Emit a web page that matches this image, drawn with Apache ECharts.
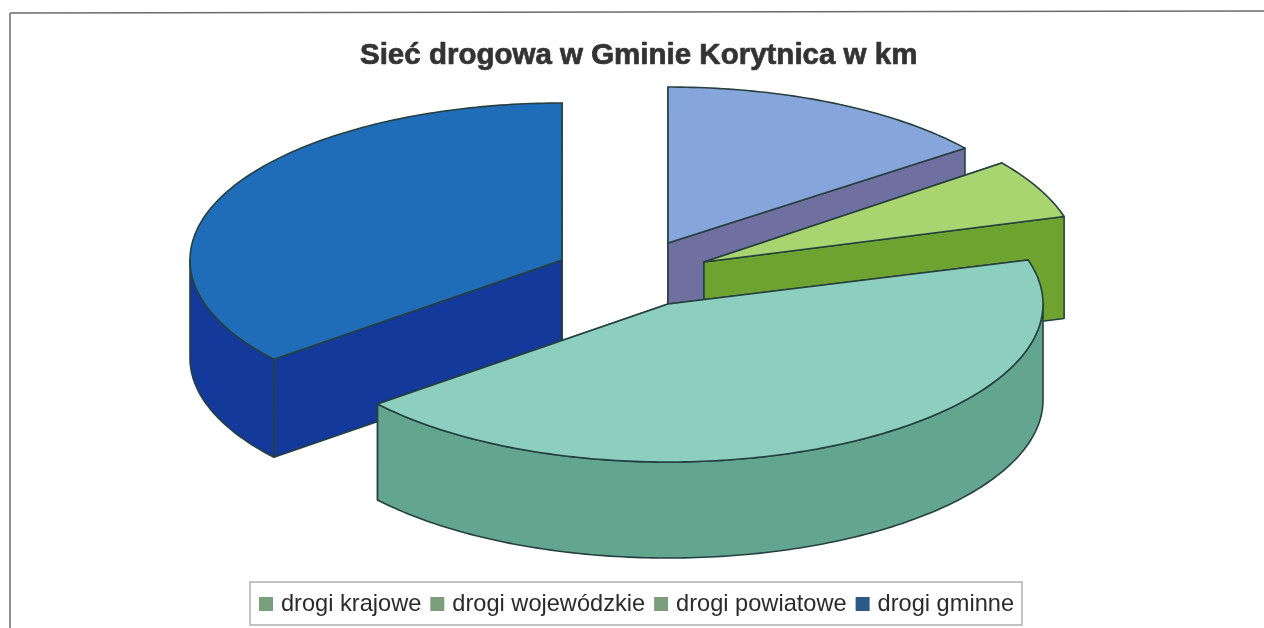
<!DOCTYPE html>
<html><head><meta charset="utf-8">
<style>html,body{margin:0;padding:0;background:#fff}#c{width:1264px;height:628px}</style>
<script src="https://cdn.jsdelivr.net/npm/echarts@6/dist/echarts.min.js"></script>
</head><body><div id="c"></div>
<script>
const titleText = 'Sieć drogowa w Gminie Korytnica w km';
const categories = ['drogi krajowe', 'drogi wojewódzkie', 'drogi powiatowe', 'drogi gminne'];
const values = [14.6, 5.9, 43.6, 35.9];

const legendColors = ['#7a9f7d', '#7a9f7d', '#7a9f7d', '#2b5a86'];
const topColors = ['#86a5da', '#a9d570', '#8dcfbe', '#1f6db8'];
const wallColors = ['#6f6fa0', '#6fa32f', '#63a68f', '#13399a'];
const centres = [[668, 243], [704, 262], [668, 304], [562, 260]];
const radiiX = [374, 375, 375, 372];
const radiiY = [156, 163, 158, 157];
const depths = [99, 102, 96, 98];
const drawOrder = [3, 0, 1, 2];
const OUT = '#26403f';

const total = values.reduce((a, b) => a + b, 0);
const startAngle = i => values.slice(0, i).reduce((a, b) => a + b, 0) / total * 2 * Math.PI;

function arcPts(idx, a0, a1, dy) {
  const c = centres[idx], n = Math.max(2, Math.ceil((a1 - a0) * 60)), pts = [];
  for (let k = 0; k <= n; k++) {
    const a = a0 + (a1 - a0) * k / n;
    pts.push([c[0] + radiiX[idx] * Math.sin(a), c[1] - radiiY[idx] * Math.cos(a) + dy]);
  }
  return pts;
}
function poly(points, fill, z2) {
  return { type: 'polygon', z2, shape: { points },
    style: { fill, stroke: OUT, lineWidth: 1.6, lineJoin: 'round' } };
}
function sliceRenderer(idx) {
  return function (params, api) {
    const span = api.value(0) / total * 2 * Math.PI;
    const a0 = startAngle(idx), a1 = a0 + span, c = centres[idx], d = depths[idx];
    const children = [];
    [a0, a1].forEach(a => {
      const p = arcPts(idx, a, a, 0)[0];
      children.push(poly([c, p, [p[0], p[1] + d], [c[0], c[1] + d]], wallColors[idx], 1));
    });
    const w0 = Math.max(a0, Math.PI / 2), w1 = Math.min(a1, 1.5 * Math.PI);
    if (w1 > w0) {
      const upper = arcPts(idx, w0, w1, 0), lower = arcPts(idx, w0, w1, d).reverse();
      children.push(poly(upper.concat(lower), wallColors[idx], 2));
    }
    children.push(poly([c].concat(arcPts(idx, a0, a1, 0)), topColors[idx], 3));
    return { type: 'group', children };
  };
}

const chart = echarts.init(document.getElementById('c'), null, { renderer: 'canvas' });
chart.setOption({
  animation: false,
  backgroundColor: '#ffffff',
  title: {
    text: titleText, left: 360, top: 41, padding: 0,
    textStyle: { fontFamily: 'Liberation Sans', fontWeight: 'bold', fontSize: 29.5, color: '#333333',
      textBorderColor: '#333333', textBorderWidth: 0.7 }
  },
  legend: {
    data: categories, left: 250, top: 582, orient: 'horizontal',
    padding: [10, 8, 9, 9], itemGap: 9, itemWidth: 14, itemHeight: 14, icon: 'rect',
    borderColor: '#b0b0b0', borderWidth: 1.5, backgroundColor: '#fff',
    textStyle: { fontFamily: 'Liberation Sans', fontSize: 23.6, color: '#2b2b2b', padding: [0, 0, 0, 3] }
  },
  graphic: [
    { type: 'line', shape: { x1: 10, y1: 13, x2: 1264, y2: 11 }, style: { stroke: '#6a6a6a', lineWidth: 1.5 } },
    { type: 'line', shape: { x1: 10, y1: 13, x2: 10, y2: 628 }, style: { stroke: '#6a6a6a', lineWidth: 1.5 } }
  ],
  series: drawOrder.map((idx, order) => ({
    type: 'custom',
    name: categories[idx],
    coordinateSystem: 'none',
    silent: true,
    z: 2 + order,
    itemStyle: { color: legendColors[idx] },
    renderItem: sliceRenderer(idx),
    data: [[values[idx]]]
  }))
});
</script></body></html>
